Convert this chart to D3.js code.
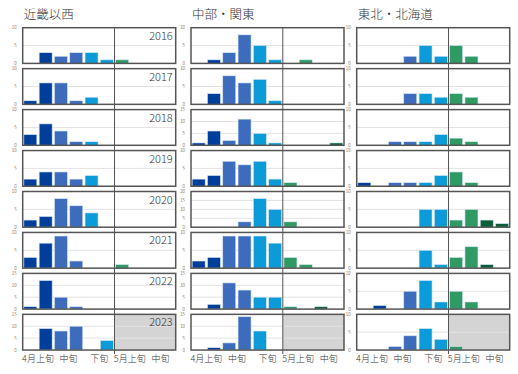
<!DOCTYPE html>
<html lang="ja">
<head>
<meta charset="UTF-8">
<title>small multiples</title>
<style>
  body { margin: 0; background: #fff; }
  text { font-family: "Noto Sans CJK JP", "Noto Sans", sans-serif; fill: #333; font-weight: 300; }
</style>
</head>
<body>
<div id="chart"></div>
<script src="https://d3js.org/d3.v7.min.js"></script>
<script>
// 5-day periods, April (6) and May (4)
const pentads = ["4月1","4月2","4月3","4月4","4月5","4月6","5月1","5月2","5月3","5月4"];
const tickLabels = ["4月上旬", "中旬", "下旬", "5月上旬", "中旬"];
const years = [2016, 2017, 2018, 2019, 2020, 2021, 2022, 2023];
const regions = ["近畿以西", "中部・関東", "東北・北海道"];

// counts per pentad, one row per year
const kinki = [
  [0,3,2,3,3,1,1,0,0,0],
  [1,6,6,1,2,0,0,0,0,0],
  [3,6,4,1,1,0,0,0,0,0],
  [2,4,4,2,3,0,0,0,0,0],
  [2,3,8,6,4,0,0,0,0,0],
  [3,7,9,2,0,0,1,0,0,0],
  [1,12,5,1,0,0,0,0,0,0],
  [0,9,8,10,0,4,0,0,0,0]
];
const chubu = [
  [0,1,3,8,5,1,0,1,0,0],
  [0,3,8,6,7,1,0,0,0,0],
  [1,6,2,11,5,1,0,0,0,1],
  [2,3,7,6,7,2,1,0,0,0],
  [0,0,0,3,16,10,3,0,0,0],
  [2,3,9,9,9,7,3,1,0,0],
  [0,2,11,8,5,5,1,0,1,0],
  [0,1,3,14,8,0,0,0,0,0]
];
const tohoku = [
  [0,0,0,2,5,2,5,2,0,0],
  [0,0,0,3,3,2,3,2,0,0],
  [0,0,1,1,1,3,2,1,0,0],
  [1,0,1,1,1,3,4,1,0,0],
  [0,0,0,0,5,5,2,5,2,1],
  [0,0,0,0,5,1,3,6,1,0],
  [0,1,0,5,8,2,5,2,0,0],
  [0,0,1,4,6,3,1,0,0,0]
];
// y axis maximum of each panel
const kinkiMax = [10,10,10,10,10,10,15,15];
const chubuMax = [10,10,15,10,20,10,15,15];
const tohokuMax = [10,10,10,10,10,10,10,10];

const colors = ["#003e9b", "#3e6cbd", "#0b9bd9", "#2f9a64", "#0b5e3a"];

const W = 518, H = 374;
const colLeft = [22.7, 191, 356.7];
const panelW = 153, panelH = 35.7;
const top0 = 27.7, rowStep = 40.95;

const svg = d3.select("#chart").append("svg")
  .attr("width", W).attr("height", H);

const x = d3.scaleBand()
  .domain(pentads)
  .range([0, panelW])
  .paddingInner(0.15)
  .paddingOuter(0.075);
const step = x.step();
const splitX = x(pentads[6]) - step * x.paddingInner() / 2;

const all = [
  {name: regions[0], data: kinki, max: kinkiMax},
  {name: regions[1], data: chubu, max: chubuMax},
  {name: regions[2], data: tohoku, max: tohokuMax}
];

all.forEach((reg, c) => {
  const col = svg.append("g").attr("transform", `translate(${colLeft[c]},0)`);

  col.append("text")
    .attr("x", 1).attr("y", 19)
    .style("font-size", "12.5px")
    .text(reg.name);

  reg.data.forEach((vals, r) => {
    const g = col.append("g").attr("transform", `translate(0,${top0 + r * rowStep})`);
    const y = d3.scaleLinear().domain([0, reg.max[r]]).range([panelH, 0]);
    const ticks = d3.range(0, reg.max[r] + 1, 5);

    // 2023 panels are greyed out for May
    if (years[r] === 2023) {
      g.append("rect")
        .attr("x", splitX).attr("y", 0)
        .attr("width", panelW - splitX).attr("height", panelH)
        .attr("fill", "#d4d4d4");
    }

    g.selectAll(".grid")
      .data(ticks.filter(t => t > 0 && t < reg.max[r]))
      .join("line")
        .attr("x1", 0).attr("x2", panelW)
        .attr("y1", d => y(d)).attr("y2", d => y(d))
        .attr("stroke", "#e3e3e3").attr("stroke-width", 1);

    g.selectAll(".tl")
      .data(ticks)
      .join("text")
        .attr("x", -6).attr("y", d => y(d) + 1.5)
        .attr("text-anchor", "end")
        .style("font-size", "4.5px")
        .text(d => d);

    g.selectAll(".bar")
      .data(vals)
      .join("rect")
        .attr("x", (d, i) => x(pentads[i]))
        .attr("y", d => y(d))
        .attr("width", x.bandwidth())
        .attr("height", d => panelH - y(d))
        .attr("fill", (d, i) => colors[Math.floor(i / 2)])
        .attr("stroke", "#d8e6f3")
        .attr("stroke-width", d => d > 0 ? 0.6 : 0);

    g.append("rect")
      .attr("width", panelW).attr("height", panelH)
      .attr("fill", "none")
      .attr("stroke", "#555").attr("stroke-width", 1.5);

    if (c === 0) {
      g.append("text")
        .attr("x", panelW - 3).attr("y", 12)
        .attr("text-anchor", "end")
        .style("font-size", "11px")
        .text(years[r]);
    }
  });

  // April / May divider across the whole column
  const lastBottom = top0 + 7 * rowStep + panelH;
  col.append("line")
    .attr("x1", splitX).attr("x2", splitX)
    .attr("y1", top0).attr("y2", lastBottom + 4)
    .attr("stroke", "#555").attr("stroke-width", 1);

  col.selectAll(".xl")
    .data(tickLabels)
    .join("text")
      .attr("x", (d, i) => x(pentads[i * 2 + 1]) - step * x.paddingInner() / 2)
      .attr("y", lastBottom + 12)
      .attr("text-anchor", "middle")
      .style("font-size", "9px")
      .text(d => d);
});
</script>
</body>
</html>
